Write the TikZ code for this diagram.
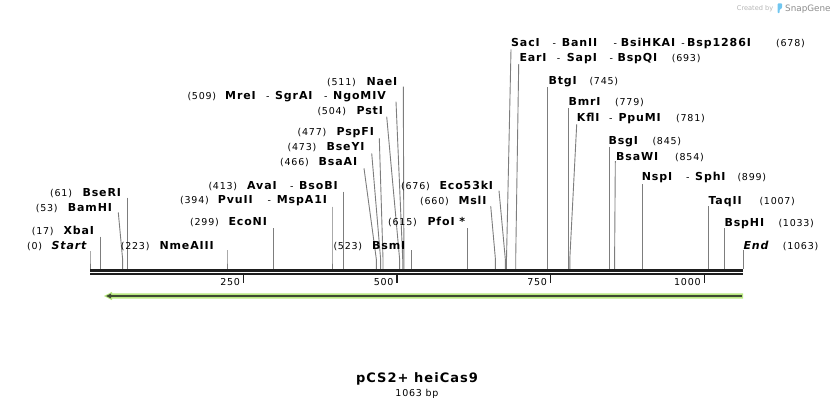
\documentclass[tikz,border=0pt]{standalone}
\usepackage{fontspec}
\setmainfont{DejaVu Sans}
\newfontfamily\numfam{DejaVu Sans}[LetterSpace=8]
\newfontfamily\enzfam{DejaVu Sans}[LetterSpace=8]
\newfontfamily\ttlfam{DejaVu Sans}[LetterSpace=8]
\definecolor{cutgray}{RGB}{125,125,125}
\definecolor{featgreen}{RGB}{184,232,128}
\definecolor{featdark}{RGB}{62,74,50}
\definecolor{credgray}{RGB}{180,180,180}
\definecolor{snapgray}{RGB}{140,140,140}
\definecolor{snapblue}{RGB}{112,198,240}
\definecolor{strand}{RGB}{30,30,30}
\tikzset{
  num/.style={font=\numfam\fontsize{9.5}{11}\selectfont, anchor=base west, inner sep=0pt},
  enz/.style={font=\enzfam\bfseries\fontsize{11}{13}\selectfont, anchor=base west, inner sep=0pt},
  enzit/.style={font=\enzfam\bfseries\itshape\fontsize{11}{13}\selectfont, anchor=base west, inner sep=0pt},
  cutline/.style={draw=cutgray, line width=0.9pt},
  ticklab/.style={font=\numfam\fontsize{9.5}{11}\selectfont, anchor=base east, inner sep=0pt},
  tickmark/.style={draw=strand, line width=1.5pt},
}
\newcommand\siteLine[4]{%
  \coordinate (#1-top) at (#2,#3);
  \coordinate (#1-knee) at (#4,259);
  \coordinate (#1-site) at (#4,269.3);
  \draw[cutline] (#1-top) -- (#1-knee) -- (#1-site);
}
\begin{document}
\begin{tikzpicture}[x=1pt,y=-1pt]
\useasboundingbox (0,0) rectangle (834,408);

% ---- cut-site connectors
\siteLine{Start}{90}{251}{90}
\siteLine{XbaI}{100.4}{236.5}{100.4}
\siteLine{BamHI}{118.3}{212.5}{122.6}
\siteLine{BseRI}{127.5}{197.5}{127.5}
\siteLine{NmeAIII}{227}{250}{227}
\siteLine{EcoNI}{273.7}{228.3}{273.7}
\siteLine{PvuII}{332}{206.5}{332}
\siteLine{AvaI}{343.7}{191.5}{343.7}
\siteLine{BsaAI}{364}{168.3}{376.3}
\siteLine{BseYI}{371.7}{153.3}{380.6}
\siteLine{PspFI}{379.3}{138.3}{383}
\siteLine{PstI}{386.7}{116.7}{399.6}
\siteLine{MreI}{396}{101.7}{402.7}
\siteLine{NaeI}{403.3}{86.7}{403.9}
\siteLine{BsmI}{411.3}{250}{411.3}
\siteLine{PfoI}{467.8}{228.3}{467.8}
\siteLine{MslI}{490.7}{206}{495.4}
\siteLine{EcoF}{499}{190.7}{505.3}
\siteLine{SacI}{511}{49.3}{506.5}
\siteLine{EarI}{518.7}{64}{515.7}
\siteLine{BtgI}{547.7}{87}{547.7}
\siteLine{BmrI}{568.5}{108}{568.5}
\siteLine{KflI}{576.7}{124.3}{569.8}
\siteLine{BsgI}{609.1}{146.7}{609.1}
\siteLine{BsaWI}{615.3}{161}{614.6}
\siteLine{NspI}{642.3}{184}{642.3}
\siteLine{TaqII}{708.6}{206}{708.6}
\siteLine{BspHI}{724.6}{228.3}{724.6}
\siteLine{End}{743}{250}{743}

% ---- labels, right side rows
\node[enz] (e-SacI) at (511,46.7) {SacI};
\node[num] (d1-SacI) at (552.3,46.7) {-};
\node[enz] (e-BanII) at (561.7,46.7) {BanII};
\node[num] (d2-SacI) at (613.3,46.7) {-};
\node[enz] (e-BsiHKAI) at (620.7,46.7) {BsiHKAI};
\node[num] (d3-SacI) at (681.2,46.7) {-};
\node[enz] (e-Bsp1286I) at (687,46.7) {Bsp1286I};
\node[num] (p-SacI) at (776,46.7) {(678)};

\node[enz] (e-EarI) at (519.3,61.3) {EarI};
\node[num] (d1-EarI) at (556.7,61.3) {-};
\node[enz] (e-SapI) at (566.7,61.3) {SapI};
\node[num] (d2-EarI) at (609.3,61.3) {-};
\node[enz] (e-BspQI) at (617.3,61.3) {BspQI};
\node[num] (p-EarI) at (671.7,61.3) {(693)};

\node[enz] (e-BtgI) at (548.3,84) {BtgI};
\node[num] (p-BtgI) at (589.3,84) {(745)};

\node[enz] (e-BmrI) at (568.3,105.7) {BmrI};
\node[num] (p-BmrI) at (615,105.7) {(779)};

\node[enz] (e-KflI) at (576.7,121.3) {KflI};
\node[num] (d1-KflI) at (609,121.3) {-};
\node[enz] (e-PpuMI) at (618.3,121.3) {PpuMI};
\node[num] (p-KflI) at (676,121.3) {(781)};

\node[enz] (e-BsgI) at (608.3,144) {BsgI};
\node[num] (p-BsgI) at (652.3,144) {(845)};

\node[enz] (e-BsaWI) at (616,160) {BsaWI};
\node[num] (p-BsaWI) at (675,160) {(854)};

\node[enz] (e-NspI) at (641.7,180.7) {NspI};
\node[num] (d1-NspI) at (686,180.7) {-};
\node[enz] (e-SphI) at (695,180.7) {SphI};
\node[num] (p-NspI) at (737.3,180.7) {(899)};

\node[enz] (e-TaqII) at (708.3,204) {TaqII};
\node[num] (p-TaqII) at (759.3,204) {(1007)};

\node[enz] (e-BspHI) at (724.3,226.3) {BspHI};
\node[num] (p-BspHI) at (778.3,226.3) {(1033)};

\node[enzit] (e-End) at (743.3,249) {End};
\node[num] (p-End) at (782.7,249) {(1063)};

% ---- labels, left side rows
\node[num] (p-NaeI) at (327,85) {(511)};
\node[enz] (e-NaeI) at (366.3,85) {NaeI};

\node[num] (p-MreI) at (187.3,99) {(509)};
\node[enz] (e-MreI) at (225,99) {MreI};
\node[num] (d1-MreI) at (266,99) {-};
\node[enz] (e-SgrAI) at (275,99) {SgrAI};
\node[num] (d2-MreI) at (324,99) {-};
\node[enz] (e-NgoMIV) at (333,99) {NgoMIV};

\node[num] (p-PstI) at (317.3,114) {(504)};
\node[enz] (e-PstI) at (356.3,114) {PstI};

\node[num] (p-PspFI) at (297.5,135.7) {(477)};
\node[enz] (e-PspFI) at (336.3,135.7) {PspFI};

\node[num] (p-BseYI) at (287.5,150.7) {(473)};
\node[enz] (e-BseYI) at (326.3,150.7) {BseYI};

\node[num] (p-BsaAI) at (280,165.7) {(466)};
\node[enz] (e-BsaAI) at (318.5,165.7) {BsaAI};

\node[num] (p-AvaI) at (208.3,189) {(413)};
\node[enz] (e-AvaI) at (247,189) {AvaI};
\node[num] (d1-AvaI) at (290,189) {-};
\node[enz] (e-BsoBI) at (299,189) {BsoBI};

\node[num] (p-EcoF) at (401,189) {(676)};
\node[enz] (e-EcoF) at (439.3,189) {Eco53kI};

\node[num] (p-BseRI) at (50,196.3) {(61)};
\node[enz] (e-BseRI) at (82.3,196.3) {BseRI};

\node[num] (p-PvuII) at (180,203.3) {(394)};
\node[enz] (e-PvuII) at (217.7,203.3) {PvuII};
\node[num] (d1-PvuII) at (267.3,203.3) {-};
\node[enz] (e-MspA1I) at (276.7,203.3) {MspA1I};

\node[num] (p-MslI) at (420,204) {(660)};
\node[enz] (e-MslI) at (458.3,204) {MslI};

\node[num] (p-BamHI) at (35.7,211) {(53)};
\node[enz] (e-BamHI) at (67.7,211) {BamHI};

\node[num] (p-EcoNI) at (190,225.7) {(299)};
\node[enz] (e-EcoNI) at (228.3,225.7) {EcoNI};

\node[num] (p-PfoI) at (388,225.7) {(615)};
\node[enz] (e-PfoI) at (427.3,225.7) {PfoI *};

\node[num] (p-XbaI) at (31.7,234.5) {(17)};
\node[enz] (e-XbaI) at (63.3,234.5) {XbaI};

\node[num] (p-Start) at (27,249) {(0)};
\node[enzit] (e-Start) at (51.5,249) {Start};

\node[num] (p-NmeAIII) at (120.7,249) {(223)};
\node[enz] (e-NmeAIII) at (159.3,249) {NmeAIII};

\node[num] (p-BsmI) at (333.3,249) {(523)};
\node[enz] (e-BsmI) at (372,249) {BsmI};

% ---- DNA strands
\coordinate (ax0) at (90,270.65);
\coordinate (ax1) at (743,270.65);
\coordinate (bx0) at (90,274.15);
\coordinate (bx1) at (743,274.15);
\draw[strand, line width=2.7pt] (ax0) -- (ax1);
\draw[strand, line width=2.3pt] (bx0) -- (bx1);

% ---- ticks
\foreach \tx/\tl in {243.6/250, 397.1/500, 550.7/750, 704.3/1000}{
  \draw[tickmark] (\tx,275.3) -- (\tx,283);
  \node[ticklab] (t\tl) at (\tx-3.5,285.8) {\tl};
}

% ---- feature arrow
\fill[featgreen] (743,293.3) -- (112,293.3) -- (112,291.8) -- (104,296) -- (112,300.2) -- (112,298.7) -- (743,298.7) -- cycle;
\draw[featdark, line width=1.2pt] (742,296) -- (110,296);
\fill[featdark] (106,296) -- (111,293.6) -- (111,298.4) -- cycle;

% ---- title
\node[font=\ttlfam\bfseries\fontsize{13}{15}\selectfont, anchor=base, inner sep=0pt] (title) at (417,382.7) {pCS2+ heiCas9};
\node[font=\numfam\fontsize{9.5}{11}\selectfont, anchor=base, inner sep=0pt] (length) at (417,396.5) {1063 bp};

% ---- credit
\node[font=\fontsize{6.6}{8}\selectfont, text=credgray, anchor=base west, inner sep=0pt] (created) at (736.7,10) {Created by};
\fill[snapblue, rounded corners=0.8pt] (777.6,13) -- (777.6,3.4) -- (782,3.4) -- (782,8.2) -- (779.6,9.6) -- (779.6,13) -- cycle;
\node[font=\fontsize{8.8}{10}\selectfont, text=snapgray, anchor=base west, inner sep=0pt] (snapgene) at (785,11) {SnapGene};
\end{tikzpicture}
\end{document}
